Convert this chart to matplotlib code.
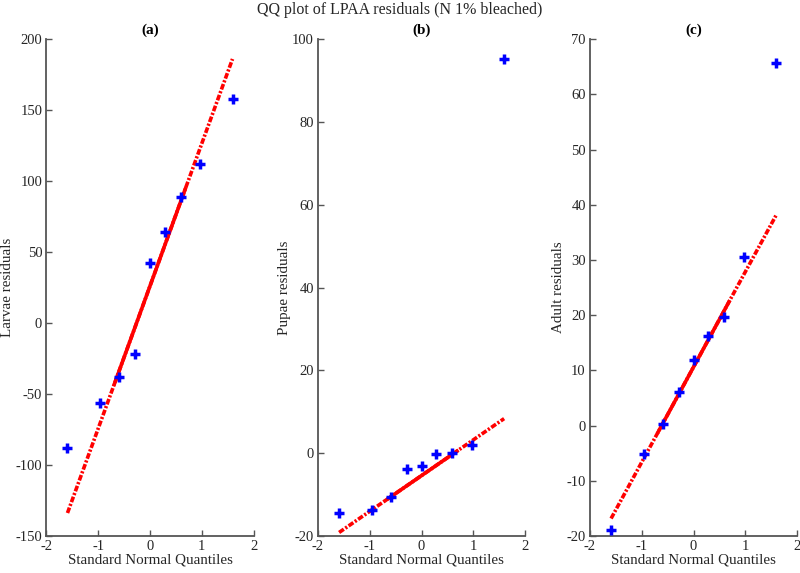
import numpy as np
import matplotlib
matplotlib.use("Agg")
import matplotlib.pyplot as plt

plt.rcParams['font.family'] = ['Liberation Serif', 'DejaVu Serif']
plt.rcParams['axes.unicode_minus'] = False

# Normal quantiles for n=9 (plotting positions (i-0.5)/n)
quantiles = [-1.593, -0.967, -0.589, -0.282, 0.0, 0.282, 0.589, 0.967, 1.593]

larvae = [-88, -56, -38, -22, 42, 64, 89, 112, 158]
pupae = [-14.5, -13.7, -10.5, -3.7, -3.2, -0.3, 0.0, 2.0, 95.2]
adult = [-19.0, -5.2, 0.2, 6.0, 11.8, 16.3, 19.7, 30.6, 65.6]

titles = ['(a)', '(b)', '(c)']
ylabels = ['Larvae residuals', 'Pupae residuals', 'Adult residuals']
ylims = [(-150, 200), (-20, 100), (-20, 70)]
yticks = [np.arange(-150, 201, 50), np.arange(-20, 101, 20), np.arange(-20, 71, 10)]
xticks = [-2, -1, 0, 1, 2]
suptitle = 'QQ plot of LPAA residuals (N 1% bleached)'


def prctile(v, p):
    v = np.sort(np.asarray(v, dtype=float))
    n = len(v)
    pos = p / 100.0 * n + 0.5  # MATLAB-style, 1-based
    lo = int(np.floor(pos))
    frac = pos - lo
    return v[lo - 1] + frac * (v[lo] - v[lo - 1])


fig = plt.figure(figsize=(8, 5.73), dpi=100)
lefts = [0.058, 0.3975, 0.7375]
axcol = '#262626'

for i, data in enumerate([larvae, pupae, adult]):
    ax = fig.add_axes([lefts[i], 0.0646, 0.259, 0.867])
    x = np.array(quantiles)
    y = np.array(data)
    q1x, q3x = prctile(x, 25), prctile(x, 75)
    q1y, q3y = prctile(y, 25), prctile(y, 75)
    slope = (q3y - q1y) / (q3x - q1x)
    cx, cy = (q1x + q3x) / 2, (q1y + q3y) / 2
    mx = np.array([x.min(), x.max()])
    my = cy + slope * (mx - cx)
    ax.plot(mx, my, color='red', lw=2.6, linestyle=(0, (1.6, 0.5, 0.6, 0.5)), zorder=2)
    ax.plot([q1x, q3x], [q1y, q3y], color='red', lw=2.6, zorder=3)
    ax.plot(x, y, '+', color='blue', ms=7, mew=2.5, zorder=4)

    ax.set_xlim(-2, 2)
    ax.set_ylim(*ylims[i])
    ax.set_xticks(xticks)
    ax.set_yticks(yticks[i])
    for s in ['top', 'right']:
        ax.spines[s].set_visible(False)
    for s in ['left', 'bottom']:
        ax.spines[s].set_color('#555555')
        ax.spines[s].set_linewidth(1.3)
    ax.tick_params(direction='in', length=4, width=1, color='#555555',
                   labelsize=10.5, labelcolor=axcol, pad=3)
    ax.set_xlabel('Standard Normal Quantiles', fontsize=10.8, color=axcol, labelpad=0)
    ax.set_ylabel(ylabels[i], fontsize=10.8, color=axcol, labelpad=1)
    ax.set_title(titles[i], fontsize=11, fontweight='bold', pad=4)

fig.text(0.5, 0.997, suptitle, ha='center', va='top', fontsize=11.5, color=axcol)

fig.savefig('out.png', dpi=100)
